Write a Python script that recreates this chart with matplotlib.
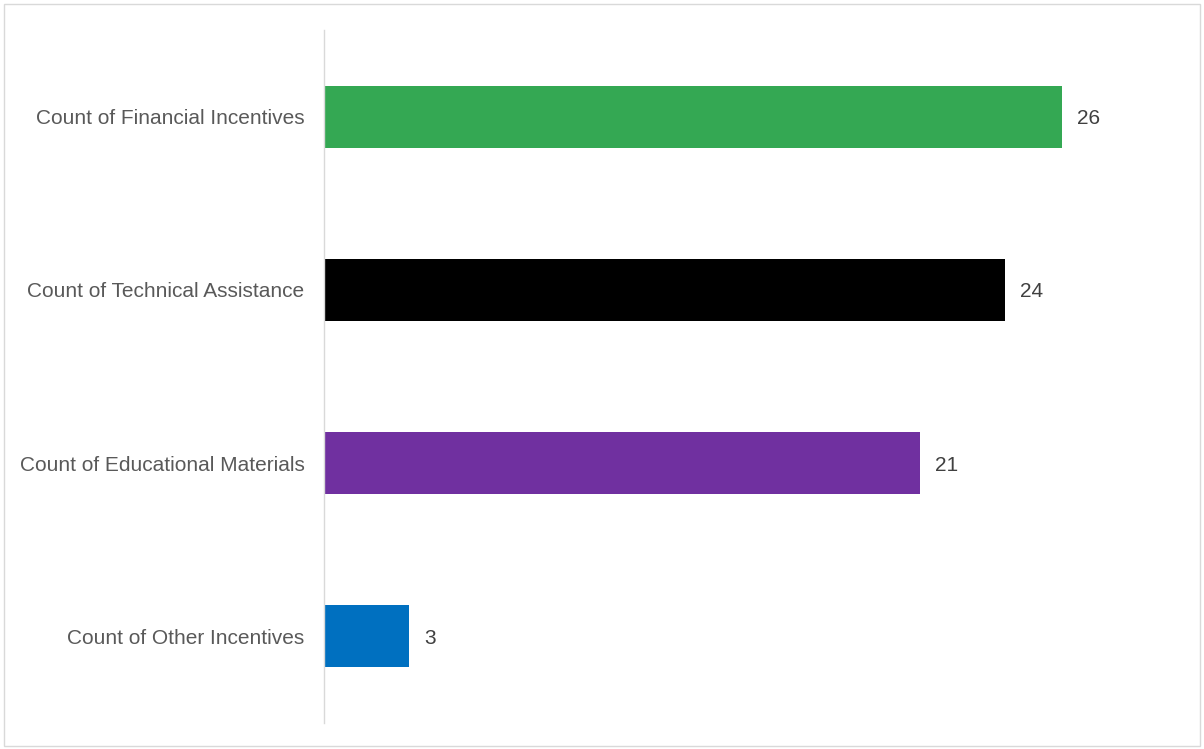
import matplotlib.pyplot as plt
from matplotlib.patches import Rectangle

plt.rcParams['font.family'] = ['Liberation Sans', 'DejaVu Sans']

# Data
categories = ['Count of Financial Incentives', 'Count of Technical Assistance',
              'Count of Educational Materials', 'Count of Other Incentives']
counts = [26, 24, 21, 3]
colors = ['#34A853', '#000000', '#7030A0', '#0070C0']

fig = plt.figure(figsize=(12.04, 7.49), dpi=100)
ax = fig.add_axes([0.2691, 0.0347, 0.7068, 0.9252])

y = list(range(len(categories)))
bars = ax.barh(y, counts, height=0.357, color=colors)

ax.set_ylim(len(categories) - 0.5, -0.5)
ax.set_xlim(0, 30)
ax.set_yticks(y)
ax.set_yticklabels(categories, fontsize=15, color='#595959')
ax.tick_params(axis='y', length=0, pad=14)
ax.set_xticks([])

for spine in ['top', 'right', 'bottom']:
    ax.spines[spine].set_visible(False)
ax.spines['left'].set_color('#D9D9D9')
ax.spines['left'].set_linewidth(1)

# value labels
for b, v in zip(bars, counts):
    ax.annotate(str(v), (b.get_width(), b.get_y() + b.get_height() / 2),
                xytext=(15, 0), textcoords='offset pixels',
                va='center_baseline', ha='left', fontsize=15, color='#404040')

# outer frame
fig.patches.append(Rectangle((0.003, 0.004), 0.994, 0.99, transform=fig.transFigure,
                             fill=False, edgecolor='#D9D9D9', linewidth=1))

fig.savefig('out.png', dpi=100)
